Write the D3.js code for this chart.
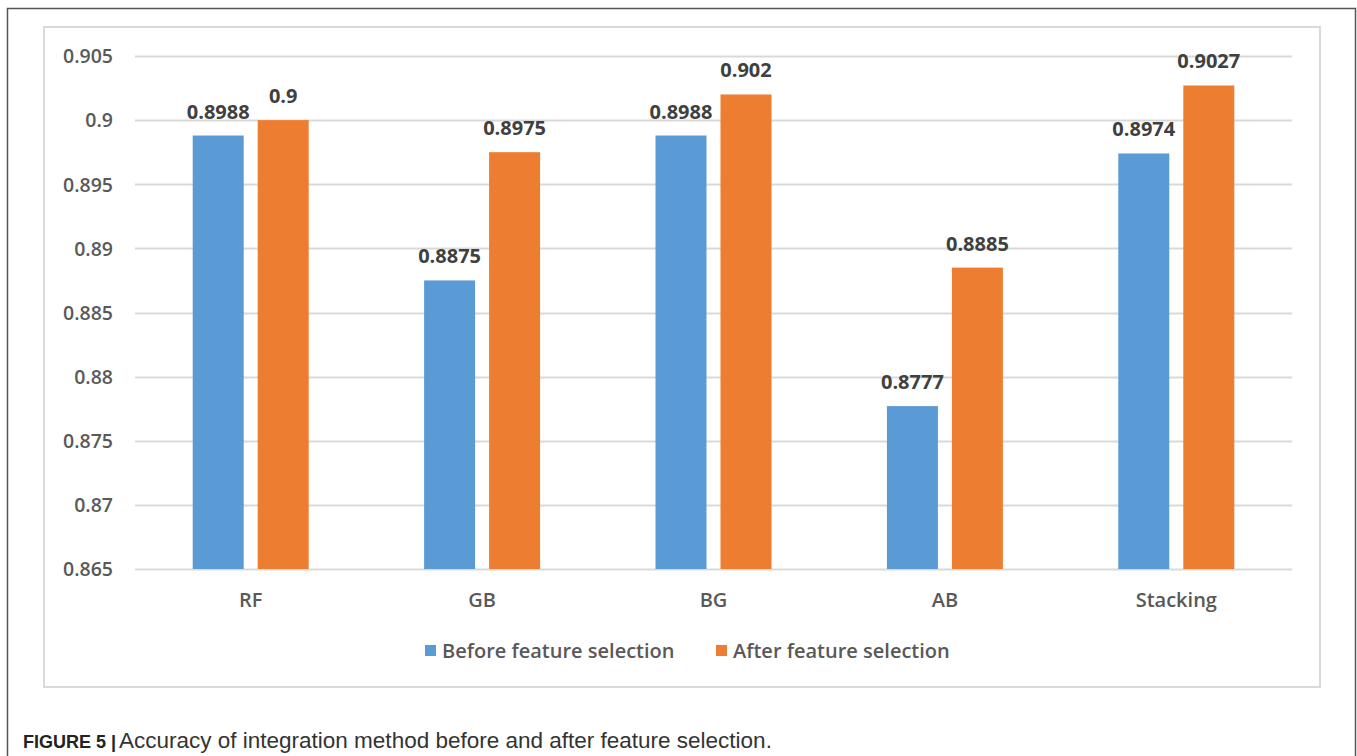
<!DOCTYPE html>
<html>
<head>
<meta charset="utf-8">
<script src="https://cdn.jsdelivr.net/npm/d3@7"></script>
<style>
  html, body { margin: 0; padding: 0; background: #fff; }
  svg { display: block; }
</style>
</head>
<body>
<script>
// Accuracy of each ensemble method, before and after feature selection
const categories = ["RF", "GB", "BG", "AB", "Stacking"];
const beforeValues = [0.8988, 0.8875, 0.8988, 0.8777, 0.8974];
const afterValues = [0.9, 0.8975, 0.902, 0.8885, 0.9027];
const seriesNames = ["Before feature selection", "After feature selection"];
const seriesColors = ["#5b9bd5", "#ed7d31"];
const yTicks = [0.865, 0.87, 0.875, 0.88, 0.885, 0.89, 0.895, 0.9, 0.905];
const yTickLabels = ["0.865", "0.87", "0.875", "0.88", "0.885", "0.89", "0.895", "0.9", "0.905"];

const W = 1357, H = 756;
const font = "'Open Sans', sans-serif";
const svg = d3.select("body").append("svg").attr("width", W).attr("height", H);
svg.append("rect").attr("width", W).attr("height", H).attr("fill", "#fff");

// Figure frame (open at the bottom)
svg.append("path")
  .attr("d", "M7.5,756 V8.5 H1355.5 V756")
  .attr("fill", "none").attr("stroke", "#555").attr("stroke-width", 1.5);

// Chart area border
svg.append("rect")
  .attr("x", 44).attr("y", 27).attr("width", 1276).attr("height", 660)
  .attr("fill", "#fff").attr("stroke", "#d9d9d9").attr("stroke-width", 2);

const plot = { left: 135, right: 1292, top: 56, bottom: 569 };

const x = d3.scaleBand().domain(categories).range([plot.left, plot.right]);
const y = d3.scaleLinear().domain([0.865, 0.905]).range([plot.bottom, plot.top]);

// Gridlines
svg.append("g").selectAll("line").data(yTicks).join("line")
  .attr("x1", plot.left).attr("x2", plot.right)
  .attr("y1", d => Math.round(y(d)) + 0.5).attr("y2", d => Math.round(y(d)) + 0.5)
  .attr("stroke", "#d9d9d9").attr("stroke-width", 2);

// Y axis labels
const yAxis = d3.axisLeft(y).tickValues(yTicks)
  .tickFormat((d, i) => yTickLabels[i]).tickSize(0).tickPadding(0);
const yg = svg.append("g").attr("transform", `translate(${plot.left - 22},0)`).call(yAxis);
yg.select(".domain").remove();
yg.selectAll("text")
  .attr("font-family", font).attr("font-size", 19.5).attr("font-weight", 600)
  .attr("fill", "#595959").attr("dy", "0.35em");

// Bars with value labels
const barW = 51, gap = 14;
const series = [beforeValues, afterValues];
series.forEach((vals, si) => {
  const offset = si === 0 ? -(gap / 2 + barW) : gap / 2;
  const g = svg.append("g");
  g.selectAll("rect").data(vals).join("rect")
    .attr("x", (d, i) => x(categories[i]) + x.bandwidth() / 2 + offset)
    .attr("width", barW)
    .attr("y", d => y(d))
    .attr("height", d => y(0.865) - y(d))
    .attr("fill", seriesColors[si]);
  g.selectAll("text").data(vals).join("text")
    .attr("x", (d, i) => x(categories[i]) + x.bandwidth() / 2 + offset + barW / 2)
    .attr("y", d => y(d) - 17)
    .attr("text-anchor", "middle")
    .attr("font-family", font).attr("font-size", 20).attr("font-weight", 700)
    .attr("fill", "#404040")
    .text(d => String(d));
});

// X axis labels
const xAxis = d3.axisBottom(x).tickSize(0).tickPadding(0);
const xg = svg.append("g").attr("transform", `translate(0,${plot.bottom})`).call(xAxis);
xg.select(".domain").remove();
xg.selectAll("text")
  .attr("y", 38).attr("dy", 0)
  .attr("font-family", font).attr("font-size", 20).attr("font-weight", 600)
  .attr("fill", "#595959");

// Legend
const legendItems = [
  { name: seriesNames[0], color: seriesColors[0], x: 425 },
  { name: seriesNames[1], color: seriesColors[1], x: 716 }
];
const lg = svg.append("g");
legendItems.forEach(it => {
  lg.append("rect").attr("x", it.x).attr("y", 645).attr("width", 11).attr("height", 11)
    .attr("fill", it.color);
  lg.append("text").attr("x", it.x + 17).attr("y", 658)
    .attr("font-family", font).attr("font-size", 20).attr("font-weight", 600)
    .attr("fill", "#595959").text(it.name);
});

// Caption: bold figure number followed by the description
const cap = svg.append("text").attr("x", 23).attr("y", 748)
  .attr("font-family", "'Liberation Sans', Arial, sans-serif").attr("fill", "#333");
cap.append("tspan").attr("font-size", 18).attr("font-weight", 700).attr("fill", "#222")
  .text("FIGURE 5 |");
cap.append("tspan").attr("x", 119).attr("font-size", 22.5)
  .text("Accuracy of integration method before and after feature selection.");
</script>
</body>
</html>
